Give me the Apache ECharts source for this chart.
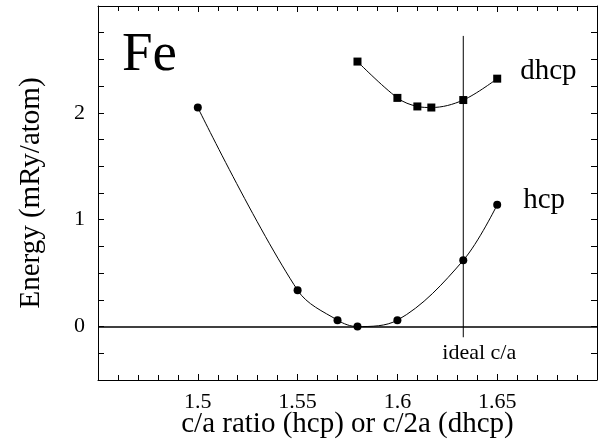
<!DOCTYPE html>
<html>
<head>
<meta charset="utf-8">
<script src="https://cdn.jsdelivr.net/npm/echarts@6/dist/echarts.min.js"></script>
<style>
  html, body { margin: 0; padding: 0; background: #fff; }
  #chart { width: 600px; height: 447px; }
</style>
</head>
<body>
<div id="chart"></div>
<script>
// hcp 曲线
const hcpX = [1.50, 1.55, 1.57, 1.58, 1.60, 1.633, 1.65]
const hcpY = [2.05, 0.34, 0.06, 0.00, 0.06, 0.62, 1.14]
// dhcp 曲线
const dhcpX = [1.58, 1.60, 1.61, 1.617, 1.633, 1.65]
const dhcpY = [2.48, 2.14, 2.06, 2.05, 2.12, 2.32]
// 理想 c/a
const idealCA = 1.633
const idealRange = [2.72, -0.1]
const xLabels = [1.5, 1.55, 1.6, 1.65]
const yLabels = [0, 1, 2]

const serif = 'Liberation Serif'
const black = '#000'

let myChart = echarts.init(document.getElementById('chart'))

const pair = (xs, ys) => xs.map((x, i) => [x, ys[i]])

// 每个轴用自己的对象
const frameLine = () => ({ show: true, onZero: false, lineStyle: { color: black, width: 1 } })
const tick = () => ({ show: true, inside: true, length: 6, lineStyle: { color: black, width: 1 } })
const minor = () => ({ show: true, splitNumber: 5, length: 5, lineStyle: { color: black, width: 1 } })

let option = {
  animation: false,
  textStyle: { fontFamily: serif, color: black },
  grid: { left: 98, right: 2, top: 6, bottom: 67 },
  xAxis: [
    {
      type: 'value',
      min: 1.45,
      max: 1.7,
      interval: 0.05,
      position: 'bottom',
      name: 'c/a ratio (hcp) or c/2a (dhcp)',
      nameLocation: 'middle',
      nameGap: 30,
      nameMoveOverlap: false,
      nameTextStyle: { fontFamily: serif, fontSize: 29, color: black },
      axisLine: frameLine(),
      axisTick: tick(),
      minorTick: minor(),
      splitLine: { show: false },
      axisLabel: {
        fontFamily: serif,
        fontSize: 22,
        color: black,
        margin: 11,
        formatter: v => {
          let r = Math.round(v * 100) / 100
          return xLabels.some(l => Math.abs(l - r) < 1e-6) ? String(r) : ''
        }
      }
    },
    {
      type: 'value',
      min: 1.45,
      max: 1.7,
      interval: 0.05,
      position: 'top',
      axisLine: frameLine(),
      axisTick: tick(),
      minorTick: minor(),
      splitLine: { show: false },
      axisLabel: { show: false }
    }
  ],
  yAxis: [
    {
      type: 'value',
      min: -0.5,
      max: 3,
      interval: 0.25,
      position: 'left',
      name: 'Energy (mRy/atom)',
      nameLocation: 'middle',
      nameGap: 52,
      nameMoveOverlap: false,
      nameTextStyle: { fontFamily: serif, fontSize: 29, color: black },
      axisLine: frameLine(),
      axisTick: tick(),
      splitLine: { show: false },
      axisLabel: {
        fontFamily: serif,
        fontSize: 22,
        color: black,
        margin: 13,
        formatter: v => (yLabels.indexOf(v) >= 0 ? String(v) : '')
      }
    },
    {
      type: 'value',
      min: -0.5,
      max: 3,
      interval: 0.25,
      position: 'right',
      axisLine: frameLine(),
      axisTick: tick(),
      splitLine: { show: false },
      axisLabel: { show: false }
    }
  ],
  graphic: [
    {
      type: 'text',
      left: 122,
      top: 28,
      style: { text: 'Fe', fontFamily: serif, fontSize: 55, fill: black }
    }
  ],
  series: [
    {
      name: 'hcp',
      type: 'line',
      data: pair(hcpX, hcpY),
      smooth: 0.35,
      symbol: 'circle',
      symbolSize: 8,
      itemStyle: { color: black },
      lineStyle: { color: black, width: 1 },
      endLabel: {
        show: true,
        formatter: 'hcp',
        fontFamily: serif,
        fontSize: 29,
        color: black,
        offset: [18, -4]
      },
      markLine: {
        silent: true,
        symbol: 'none',
        label: { show: false },
        lineStyle: { color: black, width: 1.5, type: 'solid' },
        data: [{ yAxis: 0 }]
      }
    },
    {
      name: 'dhcp',
      type: 'line',
      data: pair(dhcpX, dhcpY),
      smooth: 0.35,
      symbol: 'rect',
      symbolSize: 8,
      itemStyle: { color: black },
      lineStyle: { color: black, width: 1 },
      endLabel: {
        show: true,
        formatter: 'dhcp',
        fontFamily: serif,
        fontSize: 29,
        color: black,
        offset: [15, -7]
      }
    },
    {
      name: 'ideal',
      type: 'line',
      data: idealRange.map(y => [idealCA, y]),
      symbol: 'none',
      lineStyle: { color: black, width: 1 },
      label: { show: false },
      endLabel: {
        show: true,
        formatter: 'ideal c/a',
        fontFamily: serif,
        fontSize: 22,
        color: black,
        position: 'bottom',
        align: 'center',
        distance: 4,
        offset: [12, 16]
      }
    }
  ]
}
myChart.setOption(option, true)
</script>
</body>
</html>
